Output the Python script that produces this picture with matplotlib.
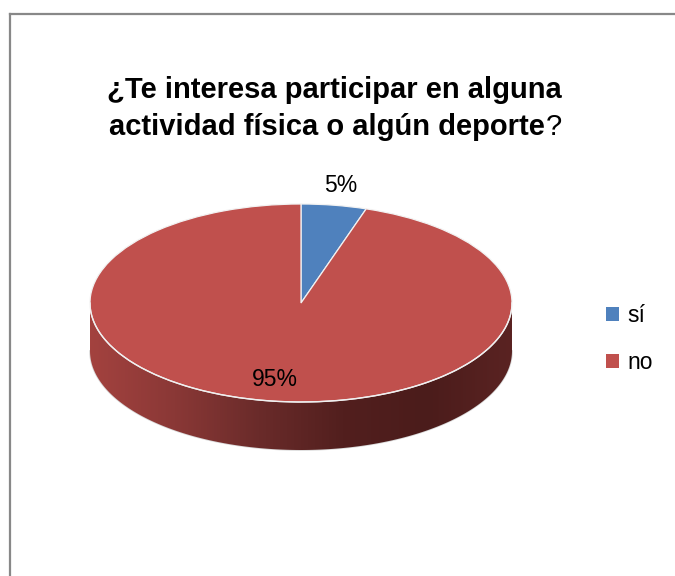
import numpy as np
import matplotlib
matplotlib.use("Agg")
from matplotlib import pyplot as plt
from matplotlib.patches import Polygon, Patch
from matplotlib.colors import LinearSegmentedColormap

# data
categories = ['sí', 'no']
values = [5, 95]
colors = ['#4F81BD', '#C0504D']
title_line1 = '¿Te interesa participar en alguna'
title_line2 = 'actividad física o algún deporte'

plt.rcParams['font.family'] = ['Liberation Sans', 'DejaVu Sans']

fig = plt.figure(figsize=(6.75, 5.76), dpi=100)

# gray chart frame (left and top only are visible)
fig.add_artist(plt.Line2D([10/675, 10/675], [0, 1 - 14/576], color='#888888', lw=1.6))
fig.add_artist(plt.Line2D([10/675, 1], [1 - 14/576, 1 - 14/576], color='#888888', lw=1.6))

# pie axes: top ellipse rx=211, ry=99 px, side depth 48 px
depth = 48 / 99.0
ax = fig.add_axes([90/675, 1 - 450/576, 422/675, (2*99 + 48)/576])
wedges, texts, autotexts = ax.pie(values, colors=colors, startangle=90, counterclock=False,
                                  autopct='%1.0f%%', pctdistance=0.78,
                                  wedgeprops=dict(edgecolor='#f2f2f2', linewidth=0.9),
                                  textprops=dict(fontsize=16.5))
ax.set_aspect('auto')
ax.set_xlim(-1, 1)
ax.set_ylim(-1 - depth, 1)
ax.axis('off')

# move the small slice label outside the pie
for w, at, v in zip(wedges, autotexts, values):
    mid = np.deg2rad((w.theta1 + w.theta2) / 2)
    if v < 10:
        at.set_position((1.2 * np.cos(mid), 1.2 * np.sin(mid)))
    at.set_zorder(5)

# side of the 3d pie (front half, all in the red slice)
th = np.linspace(np.pi, 2*np.pi, 200)
top = np.column_stack([np.cos(th), np.sin(th)])
bot = np.column_stack([np.cos(th[::-1]), np.sin(th[::-1]) - depth])
side = Polygon(np.vstack([top, bot]), closed=True, facecolor='none', edgecolor='none')
ax.add_patch(side)
cmap = LinearSegmentedColormap.from_list('side', ['#A3423F', '#8A3836', '#6A2B2A', '#521F1E', '#4B1C1B', '#5A2322'])
grad = np.linspace(0, 1, 256).reshape(1, -1)
im = ax.imshow(grad, cmap=cmap, extent=(-1, 1, -1 - depth, 0), aspect='auto', zorder=0.5)
im.set_clip_path(side)
# light rim around the bottom and the top edge
ax.plot(np.cos(th), np.sin(th) - depth, color='#d9d9d9', lw=1.2, zorder=0.4, clip_on=False)
ax.plot(np.cos(th), np.sin(th), color='#f0f0f0', lw=1.0, zorder=3)
for w in wedges:
    w.set_zorder(2)

# title, bold except the question mark
fig.text(334/675, 1 - 90/576, title_line1, ha='center', va='center',
         fontsize=21, fontweight='bold')
t2 = fig.text(327/675, 1 - 127/576, title_line2, ha='center', va='center',
              fontsize=21, fontweight='bold')
ax.annotate('?', xy=(1, 0), xycoords=t2, xytext=(0.5, 0), textcoords='offset points',
            ha='left', va='bottom', fontsize=21, annotation_clip=False)

# legend
handles = [Patch(facecolor=c, edgecolor='none') for c in colors]
fig.legend(handles, categories, loc='center left', bbox_to_anchor=(606/675, 1 - 339/576),
           frameon=False, fontsize=16.5, handlelength=0.55, handleheight=0.55,
           handletextpad=0.4, labelspacing=1.05, borderpad=0, borderaxespad=0)

fig.savefig('out.png', dpi=100)
